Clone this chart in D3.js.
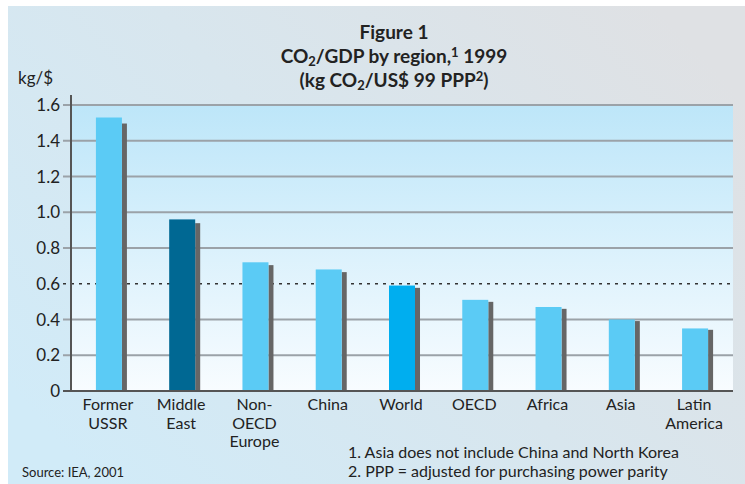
<!DOCTYPE html>
<html>
<head>
<meta charset="utf-8">
<script src="https://cdn.jsdelivr.net/npm/d3@7"></script>
<style>
  body { margin: 0; background: #fff; }
  svg { display: block; font-family: Lato, "Liberation Sans", sans-serif; }
</style>
</head>
<body>
<svg id="chart"></svg>
<script>
const regions = ['Former USSR', 'Middle East', 'Non-OECD Europe', 'China', 'World', 'OECD', 'Africa', 'Asia', 'Latin America'];
const regionLines = [['Former', 'USSR'], ['Middle', 'East'], ['Non-', 'OECD', 'Europe'], ['China'], ['World'], ['OECD'], ['Africa'], ['Asia'], ['Latin', 'America']];
const co2PerGdp = [1.53, 0.96, 0.72, 0.68, 0.59, 0.51, 0.47, 0.40, 0.35];
const barColors = ['#5bcbf5', '#006893', '#5bcbf5', '#5bcbf5', '#00aeef', '#5bcbf5', '#5bcbf5', '#5bcbf5', '#5bcbf5'];
const yTicks = [0, 0.2, 0.4, 0.6, 0.8, 1.0, 1.2, 1.4, 1.6];
const refLine = 0.6;
const footnotes = ['1. Asia does not include China and North Korea', '2. PPP = adjusted for purchasing power parity'];

const W = 745, H = 484;
const plot = { left: 71, right: 733, top: 105, bottom: 391 };

const svg = d3.select('#chart').attr('width', W).attr('height', H);
const defs = svg.append('defs');

const bgGrad = defs.append('linearGradient').attr('id', 'bg')
    .attr('x1', 0).attr('y1', 0.8).attr('x2', 1).attr('y2', 0.2);
bgGrad.append('stop').attr('offset', 0).attr('stop-color', '#d1ebf8');
bgGrad.append('stop').attr('offset', 1).attr('stop-color', '#dfe1e4');

const plotGrad = defs.append('linearGradient').attr('id', 'plotbg')
    .attr('x1', 0).attr('y1', 0).attr('x2', 0).attr('y2', 1);
plotGrad.append('stop').attr('offset', 0).attr('stop-color', '#bde6f9');
plotGrad.append('stop').attr('offset', 1).attr('stop-color', '#f8fcff');

svg.append('rect').attr('x', 8).attr('y', 6).attr('width', W - 8).attr('height', H - 6)
    .attr('fill', 'url(#bg)');

const x = d3.scaleBand()
    .domain(regions)
    .range([plot.left, plot.right])
    .paddingInner(0.645)
    .paddingOuter(0.34);

const y = d3.scaleLinear()
    .domain([0, 1.6])
    .range([plot.bottom, plot.top]);

svg.append('rect')
    .attr('x', plot.left).attr('y', plot.top)
    .attr('width', plot.right - plot.left).attr('height', plot.bottom - plot.top)
    .attr('fill', 'url(#plotbg)');

// grid lines and tick marks
svg.append('g').selectAll('line')
    .data(yTicks.filter(t => t > 0 && t !== refLine))
    .join('line')
    .attr('x1', plot.left - 8).attr('x2', plot.right)
    .attr('y1', d => y(d)).attr('y2', d => y(d))
    .attr('stroke', '#9ba2a8').attr('stroke-width', 2);

svg.append('line')
    .attr('x1', plot.left - 8).attr('x2', plot.right)
    .attr('y1', y(refLine)).attr('y2', y(refLine))
    .attr('stroke', '#333').attr('stroke-width', 1.5)
    .attr('stroke-dasharray', '3,5');

svg.append('line')
    .attr('x1', plot.left - 8).attr('x2', plot.left)
    .attr('y1', y(0)).attr('y2', y(0))
    .attr('stroke', '#555').attr('stroke-width', 2);

// bars with shadow
const bars = svg.append('g').selectAll('g')
    .data(regions)
    .join('g');

bars.append('rect')
    .attr('x', d => x(d) + x.bandwidth())
    .attr('y', (d, i) => y(co2PerGdp[i] * 0.978))
    .attr('width', 5)
    .attr('height', (d, i) => y(0) - y(co2PerGdp[i] * 0.978))
    .attr('fill', '#666');

bars.append('rect')
    .attr('x', d => x(d))
    .attr('y', (d, i) => y(co2PerGdp[i]))
    .attr('width', x.bandwidth())
    .attr('height', (d, i) => y(0) - y(co2PerGdp[i]))
    .attr('fill', (d, i) => barColors[i]);

// axes
svg.append('line')
    .attr('x1', plot.left).attr('x2', plot.left)
    .attr('y1', plot.top - 10).attr('y2', plot.bottom + 1)
    .attr('stroke', '#555').attr('stroke-width', 2);
svg.append('line')
    .attr('x1', plot.left).attr('x2', plot.right)
    .attr('y1', plot.bottom).attr('y2', plot.bottom)
    .attr('stroke', '#555').attr('stroke-width', 2);

svg.append('g').selectAll('text')
    .data(yTicks)
    .join('text')
    .attr('x', 60)
    .attr('y', d => y(d) + 6)
    .attr('text-anchor', 'end')
    .attr('font-size', 17)
    .attr('fill', '#222')
    .text(d => d === 0 ? '0' : d.toFixed(1));

svg.append('text')
    .attr('x', 18).attr('y', 84)
    .attr('font-size', 17).attr('fill', '#222')
    .text('kg/$');

// category labels
const labels = svg.append('g').selectAll('text')
    .data(regions)
    .join('text')
    .attr('text-anchor', 'middle')
    .attr('font-size', 16)
    .attr('fill', '#222');
labels.selectAll('tspan')
    .data((d, i) => regionLines[i].map(t => ({ t, d })))
    .join('tspan')
    .attr('x', o => x(o.d) + x.bandwidth() / 2 - 1)
    .attr('y', (o, j) => 410 + j * 18.5)
    .text(o => o.t);

// title
const title = svg.append('g')
    .attr('font-weight', 'bold')
    .attr('font-size', 19)
    .attr('fill', '#222')
    .attr('text-anchor', 'middle');

title.append('text').attr('x', 394).attr('y', 39).text('Figure 1');

const t2 = title.append('text').attr('x', 394).attr('y', 63);
t2.append('tspan').text('CO');
t2.append('tspan').attr('dy', 3).attr('font-size', 13).text('2');
t2.append('tspan').attr('dy', -3).text('/GDP by region,');
t2.append('tspan').attr('dy', -6).attr('font-size', 13).text('1');
t2.append('tspan').attr('dy', 6).text(' 1999');

const t3 = title.append('text').attr('x', 394).attr('y', 87);
t3.append('tspan').text('(kg CO');
t3.append('tspan').attr('dy', 3).attr('font-size', 13).text('2');
t3.append('tspan').attr('dy', -3).text('/US$ 99 PPP');
t3.append('tspan').attr('dy', -6).attr('font-size', 13).text('2');
t3.append('tspan').attr('dy', 6).text(')');

// footnotes
svg.append('g').selectAll('text')
    .data(footnotes)
    .join('text')
    .attr('x', 348)
    .attr('y', (d, i) => 458 + i * 19)
    .attr('font-size', 16)
    .attr('fill', '#222')
    .text(d => d);

svg.append('text')
    .attr('x', 22).attr('y', 477)
    .attr('font-size', 13).attr('fill', '#222')
    .text('Source: IEA, 2001');
</script>
</body>
</html>
